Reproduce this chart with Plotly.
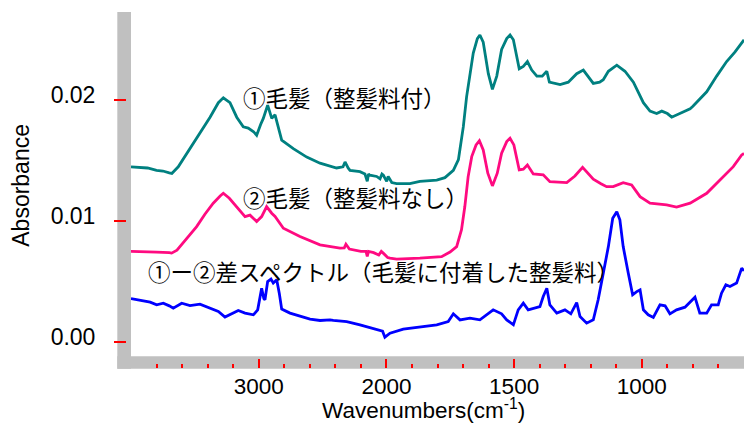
import plotly.graph_objects as go

# ---------------- data ----------------
wn_hair_styled = [4000, 3930, 3870, 3800, 3750, 3700, 3680, 3630, 3564, 3460, 3381, 3316, 3277, 3225,
                  3172, 3121, 3082, 3040, 3016, 2985, 2964, 2930, 2910, 2898, 2872, 2850, 2820, 2729,
                  2624, 2520, 2390, 2340, 2324, 2300, 2285, 2207, 2168, 2150, 2140, 2129, 2076, 2050,
                  2035, 2024, 1999, 1993, 1979, 1960, 1908, 1869, 1803, 1771, 1738, 1718, 1699, 1686,
                  1673, 1660, 1644, 1634, 1621, 1601, 1585, 1568, 1549, 1529, 1516, 1503, 1480, 1464,
                  1448, 1431, 1411, 1390, 1372, 1362, 1320, 1288, 1255, 1229, 1190, 1165, 1151, 1131,
                  1098, 1066, 1033, 994, 968, 942, 922, 900, 883, 850, 811, 800, 778, 746, 707, 668,
                  635, 609, 600]
abs_hair_styled = [0.0145, 0.01445, 0.0144, 0.0142, 0.01415, 0.0140, 0.01395, 0.0145, 0.0156, 0.0173,
                   0.0186, 0.0198, 0.0202, 0.0198, 0.0186, 0.0178, 0.0177, 0.0174, 0.0171, 0.0180,
                   0.0185, 0.0196, 0.0190, 0.0185, 0.0188, 0.0180, 0.0167, 0.0160, 0.0153, 0.0148,
                   0.0144, 0.0145, 0.0149, 0.0144, 0.0142, 0.0141, 0.0139, 0.0133, 0.0139, 0.0138,
                   0.0137, 0.0135, 0.0139, 0.0138, 0.0133, 0.0137, 0.0132, 0.0131, 0.0131, 0.0133,
                   0.0134, 0.0136, 0.0142, 0.0151, 0.0178, 0.0203, 0.0220, 0.0239, 0.0251, 0.0254,
                   0.0248, 0.0222, 0.0209, 0.0220, 0.0242, 0.0251, 0.0254, 0.0250, 0.0226, 0.0228,
                   0.0232, 0.0225, 0.0220, 0.0220, 0.0224, 0.0215, 0.0213, 0.0215, 0.0222, 0.0225,
                   0.0214, 0.0215, 0.0217, 0.0224, 0.0229, 0.0224, 0.0215, 0.0198, 0.0191, 0.0189,
                   0.0191, 0.0189, 0.0186, 0.0189, 0.0193, 0.0195, 0.0200, 0.0207, 0.0220, 0.0232,
                   0.0240, 0.0247, 0.0250]

wn_hair_plain = [4000, 3900, 3800, 3700, 3682, 3640, 3560, 3486, 3420, 3356, 3300, 3277, 3230, 3172,
                 3107, 3068, 3016, 2977, 2938, 2898, 2872, 2807, 2677, 2520, 2364, 2330, 2317, 2290,
                 2260, 2200, 2160, 2150, 2140, 2100, 2060, 2040, 2025, 1995, 1986, 1960, 1869, 1784,
                 1751, 1725, 1706, 1693, 1680, 1666, 1649, 1636, 1621, 1603, 1585, 1566, 1549, 1529,
                 1516, 1501, 1480, 1464, 1448, 1425, 1386, 1360, 1294, 1262, 1232, 1190, 1160, 1138,
                 1112, 1073, 1040, 1007, 968, 903, 864, 811, 746, 681, 642, 609, 600]
abs_hair_plain = [0.0075, 0.0075, 0.00745, 0.0074, 0.00736, 0.0076, 0.0086, 0.00955, 0.0106, 0.01149,
                  0.0121, 0.01231, 0.0119, 0.01121, 0.01038, 0.0105, 0.00997, 0.01038, 0.01121,
                  0.01066, 0.0104, 0.00942, 0.00873, 0.00804, 0.00777, 0.0078, 0.0081, 0.0077,
                  0.00763, 0.0075, 0.0075, 0.0071, 0.0075, 0.0074, 0.0072, 0.0075, 0.00736, 0.0070,
                  0.00694, 0.00686, 0.00694, 0.00707, 0.00745, 0.0079, 0.0093, 0.01121, 0.01369,
                  0.01534, 0.01631, 0.01666, 0.01589, 0.01397, 0.01292, 0.01397, 0.01562, 0.01658,
                  0.01686, 0.01631, 0.01424, 0.0143, 0.01465, 0.01391, 0.01383, 0.01327, 0.01319,
                  0.01374, 0.01446, 0.01347, 0.0131, 0.01286, 0.01286, 0.01319, 0.0130, 0.01203,
                  0.01149, 0.01135, 0.01116, 0.01149, 0.01231, 0.01369, 0.01451, 0.01548, 0.0156]

wn_difference = [4000, 3950, 3903, 3850, 3799, 3747, 3700, 3669, 3603, 3538, 3460, 3381, 3316, 3264,
                 3225, 3160, 3107, 3042, 3008, 2990, 2977, 2960, 2951, 2930, 2904, 2886, 2859, 2839,
                 2820, 2755, 2677, 2598, 2520, 2442, 2416, 2311, 2207, 2160, 2129, 2064, 2030, 2012,
                 1986, 1934, 1869, 1803, 1758, 1738, 1712, 1673, 1634, 1608, 1582, 1549, 1529, 1503,
                 1484, 1464, 1445, 1399, 1386, 1372, 1360, 1333, 1301, 1278, 1255, 1242, 1216, 1190,
                 1171, 1151, 1131, 1114, 1098, 1086, 1073, 1053, 1036, 1020, 1007, 994, 975, 955,
                 929, 909, 890, 864, 831, 792, 773, 746, 727, 701, 688, 671, 655, 629, 609, 600]
abs_difference = [0.0036, 0.0035, 0.00336, 0.0033, 0.00308, 0.00322, 0.0030, 0.00281, 0.00322,
                  0.00302, 0.00314, 0.00281, 0.00253, 0.00207, 0.00226, 0.00261, 0.0024, 0.00226,
                  0.00267, 0.00391, 0.00446, 0.0036, 0.0035, 0.00501, 0.00521, 0.00488, 0.00515,
                  0.00405, 0.00273, 0.0024, 0.00212, 0.0019, 0.00179, 0.00184, 0.00179, 0.0017,
                  0.00143, 0.0013, 0.00116, 0.00102, 0.0009, 0.00041, 0.00074, 0.00107, 0.00124,
                  0.00143, 0.0017, 0.00234, 0.00184, 0.00198, 0.00184, 0.00226, 0.00267, 0.00234,
                  0.00184, 0.00143, 0.00267, 0.00322, 0.00267, 0.00294, 0.00377, 0.00446, 0.00308,
                  0.0024, 0.00267, 0.00234, 0.00327, 0.00212, 0.00157, 0.00184, 0.0035, 0.0057,
                  0.0079, 0.01025, 0.01079, 0.01011, 0.0079, 0.0057, 0.00391, 0.00418, 0.00432,
                  0.00267, 0.00226, 0.00204, 0.00308, 0.0030, 0.00234, 0.00267, 0.00289, 0.00372,
                  0.0024, 0.0024, 0.00308, 0.00308, 0.00405, 0.00474, 0.0046, 0.00488, 0.00612,
                  0.0059]

series_labels = ["①毛髪（整髪料付）", "②毛髪（整髪料なし）", "①ー②差スペクトル（毛髪に付着した整髪料）"]
x_tick_wavenumbers = [4000, 3000, 2000, 1500, 1000]
x_tick_labels = ["", "3000", "2000", "1500", "1000"]
y_tick_values = [0.00, 0.01, 0.02]
y_tick_labels = ["0.00", "0.01", "0.02"]


# IR spectra convention: the region above 2000 cm-1 is drawn at half scale
def to_axis(wn):
    return wn if wn <= 2000 else 2000 + (wn - 2000) / 2


def conv(lst):
    return [to_axis(v) for v in lst]


W, H = 744, 423
ML, MR, MT, MB = 126, 0, 12, 54.5
PW, PH = W - ML - MR, H - MT - MB
GRAY = "#C0C0C0"
TXT_FONT = "Arial, Liberation Sans, sans-serif"
JP_FONT = "Noto Sans CJK JP"


def px_x(p):  # pixel -> paper x
    return (p - ML) / PW


def px_y(p):  # pixel -> paper y
    return (H - MB - p) / PH


fig = go.Figure()
for wn, ab, col in [(wn_hair_styled, abs_hair_styled, "#008080"),
                    (wn_hair_plain, abs_hair_plain, "#FF0A80"),
                    (wn_difference, abs_difference, "#0000FF")]:
    fig.add_trace(go.Scatter(x=conv(wn), y=ab, mode="lines",
                             line=dict(color=col, width=2.8), showlegend=False,
                             hoverinfo="skip"))

fig.update_layout(
    width=W, height=H, autosize=False,
    margin=dict(l=ML, r=MR, t=MT, b=MB, pad=0, autoexpand=False),
    paper_bgcolor="white", plot_bgcolor="white",
    font=dict(family=TXT_FONT, color="black", size=23),
    xaxis=dict(
        domain=[px_x(131), 1], anchor="free", position=0, automargin=False,
        range=[to_axis(4000), to_axis(600)],
        showgrid=False, zeroline=False, showline=False,
        tickmode="array", tickvals=conv(x_tick_wavenumbers), ticktext=x_tick_labels,
        ticks="inside", ticklen=9.5, tickwidth=2, tickcolor="red",
        tickfont=dict(size=22.5, family=TXT_FONT, color="black"),
        ticklabelstandoff=2,
        minor=dict(ticks="inside", ticklen=4.5, tickwidth=2, tickcolor="red",
                   tickmode="linear", tick0=0, dtick=100, showgrid=False),
    ),
    yaxis=dict(
        domain=[px_y(357), 1], anchor="free", position=0, automargin=False,
        range=[-0.00119, 0.0273],
        showgrid=False, zeroline=False, showline=False,
        tickmode="array", tickvals=y_tick_values, ticktext=y_tick_labels,
        ticks="outside", ticklen=12, tickwidth=2, tickcolor="red",
        tickfont=dict(size=23, family=TXT_FONT, color="black"),
        ticklabelstandoff=14, ticklabelshift=-5,
    ),
    shapes=[
        dict(type="rect", xref="paper", yref="paper", layer="below",
             x0=px_x(117.3), x1=px_x(131), y0=px_y(369.3), y1=1,
             fillcolor=GRAY, line=dict(width=0)),
        dict(type="rect", xref="paper", yref="paper", layer="below",
             x0=px_x(117.3), x1=1, y0=px_y(369.3), y1=px_y(356.7),
             fillcolor=GRAY, line=dict(width=0)),
    ],
)

annos = [
    dict(x=to_axis(3135), y=0.0203, text=series_labels[0]),
    dict(x=to_axis(3135), y=0.0120, text=series_labels[1]),
    dict(x=to_axis(3880), y=0.0059, text=series_labels[2]),
]
for a in annos:
    fig.add_annotation(x=a["x"], y=a["y"], xref="x", yref="y", text=a["text"],
                       showarrow=False, xanchor="left", yanchor="middle",
                       font=dict(family=JP_FONT, size=22.5, color="black"))

fig.add_annotation(x=to_axis(1853), y=px_y(410), xref="x", yref="paper",
                   text="Wavenumbers(cm<sup>-1</sup>)", showarrow=False,
                   xanchor="center", yanchor="middle",
                   font=dict(family=TXT_FONT, size=22.5, color="black"))
fig.add_annotation(x=px_x(21), y=px_y(186), xref="paper", yref="paper",
                   text="Absorbance", textangle=-90, showarrow=False,
                   xanchor="center", yanchor="middle",
                   font=dict(family=TXT_FONT, size=23, color="black"))

fig.write_html("out.html", config={"displayModeBar": False},
               post_script="document.body.style.margin='0';"
                           "document.body.style.overflow='hidden';")
